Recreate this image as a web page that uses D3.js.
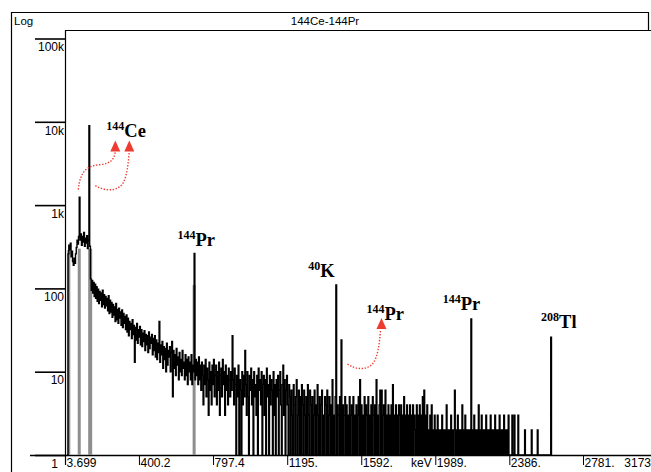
<!DOCTYPE html>
<html>
<head>
<meta charset="utf-8">
<script src="https://cdn.jsdelivr.net/npm/d3@7"></script>
<style>
  body { margin: 0; background: #fff; }
  svg { display: block; font-family: "Liberation Sans", Arial, sans-serif; }
</style>
</head>
<body>
<svg id="chart" width="651" height="472"></svg>
<script>
// spectrum, counts per 4 keV channel (first channel centred at 14 keV)
var channelStart = 14, channelWidth = 4;
var counts = [
  0, 0, 260, 330, 290, 350, 240, 280, 210, 190, 230, 200, 260, 310, 380, 340, 420, 1240, 380, 450,
  330, 420, 360, 470, 320, 400, 350, 430, 300, 380, 9000, 320, 130, 95, 125, 88, 118, 80, 112, 76,
  105, 70, 98, 66, 92, 72, 88, 60, 95, 64, 84, 58, 80, 62, 76, 54, 82, 50, 72, 52,
  68, 45, 64, 48, 60, 40, 66, 42, 56, 38, 58, 44, 52, 36, 55, 34, 50, 38, 46, 32,
  48, 30, 44, 27, 40, 32, 38, 25, 42, 28, 36, 13, 34, 24, 38, 22, 32, 26, 35, 21,
  32, 20, 29, 23, 31, 18, 28, 21, 27, 17, 30, 19, 26, 22, 28, 16, 25, 18, 27, 15,
  24, 14, 22, 17, 40, 13, 21, 16, 23, 11, 20, 14, 19, 10, 22, 12, 18, 15, 20, 10,
  17, 23, 5, 18, 11, 16, 9, 19, 12, 15, 8, 17, 10, 14, 9, 18, 11, 13, 8, 16,
  9, 14, 7, 15, 10, 13, 8, 16, 7, 12, 10, 263, 8, 14, 9, 13, 7, 15, 8, 12,
  6, 13, 9, 4, 12, 7, 14, 5, 11, 8, 3, 13, 6, 10, 4, 12, 7, 14, 5, 9,
  12, 4, 10, 6, 13, 3, 9, 11, 5, 14, 7, 10, 3, 12, 6, 9, 4, 11, 8, 5,
  10, 6, 27, 8, 4, 11, 7, 0, 9, 5, 12, 1, 8, 6, 0, 10, 4, 9, 5, 18,
  7, 3, 10, 5, 0, 9, 6, 11, 4, 8, 0, 10, 5, 7, 3, 9, 0, 11, 6, 8,
  4, 10, 0, 7, 9, 3, 8, 0, 11, 5, 7, 0, 9, 4, 8, 6, 0, 10, 3, 7,
  0, 8, 5, 9, 0, 6, 10, 4, 0, 7, 12, 3, 8, 0, 6, 9, 4, 0, 7, 5,
  0, 6, 3, 0, 7, 4, 0, 5, 8, 0, 3, 6, 0, 5, 0, 7, 4, 0, 6, 3,
  0, 5, 0, 7, 3, 0, 6, 4, 0, 5, 0, 3, 6, 0, 4, 0, 7, 3, 0, 5,
  0, 4, 6, 0, 3, 0, 5, 4, 0, 6, 0, 3, 5, 0, 4, 0, 8, 0, 3, 0,
  5, 110, 0, 4, 3, 0, 5, 0, 24, 0, 4, 0, 3, 5, 0, 4, 0, 3, 0, 5,
  0, 3, 4, 0, 5, 0, 3, 0, 4, 0, 3, 5, 0, 8, 0, 4, 0, 3, 0, 5,
  0, 4, 3, 0, 5, 0, 3, 0, 4, 0, 5, 3, 0, 4, 0, 8, 0, 3, 0, 4,
  6, 0, 6, 0, 3, 4, 0, 6, 0, 3, 0, 4, 0, 3, 0, 4, 0, 7, 0, 3,
  0, 4, 0, 3, 0, 4, 3, 0, 4, 0, 3, 0, 5, 0, 3, 0, 4, 0, 3, 0,
  4, 0, 3, 0, 4, 0, 3, 2, 0, 4, 0, 3, 0, 4, 0, 3, 0, 5, 0, 6,
  0, 3, 0, 4, 0, 2, 0, 3, 0, 4, 0, 2, 0, 3, 0, 2, 0, 3, 0, 2,
  0, 2, 0, 3, 0, 2, 0, 2, 0, 4, 0, 2, 0, 2, 0, 3, 0, 2, 0, 2,
  6, 0, 2, 0, 3, 0, 2, 0, 2, 0, 4, 0, 2, 0, 3, 0, 2, 0, 2, 0,
  2, 0, 43, 0, 2, 0, 3, 0, 2, 0, 2, 0, 4, 0, 2, 0, 3, 0, 2, 0,
  2, 0, 3, 0, 2, 0, 2, 0, 3, 0, 2, 0, 2, 0, 3, 0, 2, 0, 2, 0,
  3, 0, 2, 0, 2, 0, 3, 0, 2, 0, 2, 0, 3, 0, 0, 0, 0, 3, 0, 0,
  3, 0, 0, 0, 0, 3, 0, 0, 0, 0, 0, 0, 0, 0, 2, 0, 0, 0, 0, 0,
  0, 0, 0, 2, 0, 0, 0, 0, 0, 0, 0, 2, 0, 0, 0, 0, 0, 0, 0, 0,
  0, 0, 0, 0, 0, 0, 0, 0, 0, 26, 0
];

// regions of interest (grey), keV and height in counts
var roiEnergies = [24, 80, 136, 696];
var roiCounts = [290, 300, 300, 110];

var yTicks = [100000, 10000, 1000, 100, 10, 1];
var yTickLabels = ["100k", "10k", "1k", "100", "10", "1"];
var xTicks = [3.699, 400.2, 797.4, 1195, 1592, 1989, 2386, 2781];
var xTickLabels = ["3.699", "400.2", "797.4", "1195.", "1592.", "1989.", "2386.", "2781."];
var xEndLabel = "3173";

// labelled lines
var isoMass = ["144", "144", "40", "144", "144", "208"];
var isoElement = ["Ce", "Pr", "K", "Pr", "Pr", "Tl"];
var isoEnergy = [133.5, 696.5, 1460.8, 1489.2, 2185.7, 2614.5];

// label offset from the peak top, px
var labelOffset = [[17, 11], [-17, -7], [-28, -8], [25, -20], [-28.5, -9], [-10, -9]];
// dotted arrows, drawn relative to a label
var arrows = [
  {label: 0, d: "M-28,53 C-26,33 -18,29 -6,28 C4,27 8,23 9,15", tip: [9, 4]},
  {label: 0, d: "M-11,49 C-1,55 12,55 17,46 C21,38 22,26 23,15", tip: [23, 4]},
  {label: 3, d: "M-19,44 C-10,50 0,50 6,44 C11,38 13,25 14,10", tip: [15, -2]}
];

var svg = d3.select("#chart");
var plotLeft = 65, plotTop = 30, plotBottom = 455, plotRight = 651;

var x = d3.scaleLinear().domain([3.699, 2781]).range([plotLeft, 583]);
var y = d3.scaleLog().domain([1, 100000]).range([plotBottom, 38.5]);

function yv(v) { return v >= 1 ? y(v) : y(1); }
function energy(i) { return channelStart + channelWidth * i; }

// frame
svg.append("path")
  .attr("d", "M11.5,472 V12.5 H648.5 V30.5")
  .attr("fill", "none").attr("stroke", "#000").attr("stroke-width", 1.2);
svg.append("text").attr("x", 14).attr("y", 25).attr("font-size", 11.5).text("Log");
svg.append("text").attr("x", 325).attr("y", 25).attr("font-size", 11.5)
  .attr("text-anchor", "middle").text("144Ce-144Pr");

// plot box top and left
svg.append("line").attr("x1", plotLeft).attr("x2", plotRight).attr("y1", plotTop + 0.5).attr("y2", plotTop + 0.5)
  .attr("stroke", "#000").attr("stroke-width", 1.2);
svg.append("line").attr("x1", plotLeft + 0.5).attr("x2", plotLeft + 0.5).attr("y1", plotTop).attr("y2", plotBottom + 10)
  .attr("stroke", "#000").attr("stroke-width", 1.2);

// y axis
var yAxis = svg.append("g").attr("transform", "translate(" + plotLeft + ",0)")
  .call(d3.axisLeft(y).tickValues(yTicks).tickSize(30)
    .tickFormat(function(d, i) { return yTickLabels[i]; }));
yAxis.select(".domain").remove();
yAxis.selectAll("line").attr("stroke-width", 1.6);
yAxis.selectAll("text")
  .attr("x", function(d) { return d === 1 ? -7 : -1; })
  .attr("dy", "1.02em")
  .attr("font-size", 12).attr("font-family", "Liberation Sans, Arial, sans-serif").attr("fill", "#000");

// x axis
svg.append("line").attr("x1", 30).attr("x2", plotRight).attr("y1", plotBottom + 0.5).attr("y2", plotBottom + 0.5)
  .attr("stroke", "#000").attr("stroke-width", 1.4);
var xAxis = svg.append("g").attr("transform", "translate(0," + plotBottom + ")")
  .call(d3.axisBottom(x).tickValues(xTicks).tickSize(10)
    .tickFormat(function(d, i) { return xTickLabels[i]; }));
xAxis.select(".domain").remove();
xAxis.selectAll("text")
  .attr("x", 1).attr("y", 3).attr("text-anchor", "start")
  .attr("font-size", 12).attr("font-family", "Liberation Sans, Arial, sans-serif").attr("fill", "#000");
svg.append("text").attr("x", 651).attr("y", plotBottom + 12).attr("text-anchor", "end")
  .attr("font-size", 12).text(xEndLabel);
svg.append("text").attr("x", 411).attr("y", plotBottom + 12).attr("font-size", 12).text("keV");

// grey regions of interest
svg.selectAll("rect.roi").data(roiEnergies).enter().append("rect")
  .attr("class", "roi")
  .attr("x", function(d) { return x(d) - 1.5; })
  .attr("width", function(d, i) { return i === 2 ? 4 : 3; })
  .attr("y", function(d, i) { return y(roiCounts[i]); })
  .attr("height", function(d, i) { return y(1) - y(roiCounts[i]); })
  .attr("fill", "#8e8e8e");

// spectrum as a step line
var line = d3.line()
  .x(function(d, i) { return x(energy(i)); })
  .y(function(d) { return yv(d); })
  .curve(d3.curveStep);
svg.append("path").datum(counts)
  .attr("d", line)
  .attr("fill", "none").attr("stroke", "#000").attr("stroke-width", 1.4);

// labels
function peakChannel(e) {
  var c = Math.round((e - channelStart) / channelWidth), best = c;
  for (var k = c - 2; k <= c + 2; k++) if (counts[k] > counts[best]) best = k;
  return best;
}
var anchors = isoEnergy.map(function(e, i) {
  var c = peakChannel(e);
  return [x(energy(c)) + labelOffset[i][0], yv(counts[c]) + labelOffset[i][1]];
});

var labels = svg.selectAll("text.iso").data(isoMass).enter().append("text")
  .attr("class", "iso")
  .attr("x", function(d, i) { return anchors[i][0]; })
  .attr("y", function(d, i) { return anchors[i][1]; })
  .attr("font-family", "Liberation Serif, Times New Roman, serif")
  .attr("font-weight", "bold");
labels.append("tspan").attr("font-size", 12).attr("dy", -7).text(function(d) { return d; });
labels.append("tspan").attr("font-size", 18.5).attr("dy", 7).text(function(d, i) { return isoElement[i]; });

// dotted red arrows
var red = "#ee3b30";
arrows.forEach(function(a) {
  var g = svg.append("g").attr("transform", "translate(" + anchors[a.label][0] + "," + anchors[a.label][1] + ")");
  g.append("path").attr("d", a.d).attr("fill", "none").attr("stroke", red)
    .attr("stroke-width", 1.4).attr("stroke-dasharray", "1.4 1.6");
  var t = a.tip;
  g.append("path")
    .attr("d", "M" + t[0] + "," + t[1] + " L" + (t[0] - 5) + "," + (t[1] + 11) + " L" + (t[0] + 5) + "," + (t[1] + 11) + "Z")
    .attr("fill", red);
});
</script>
</body>
</html>
